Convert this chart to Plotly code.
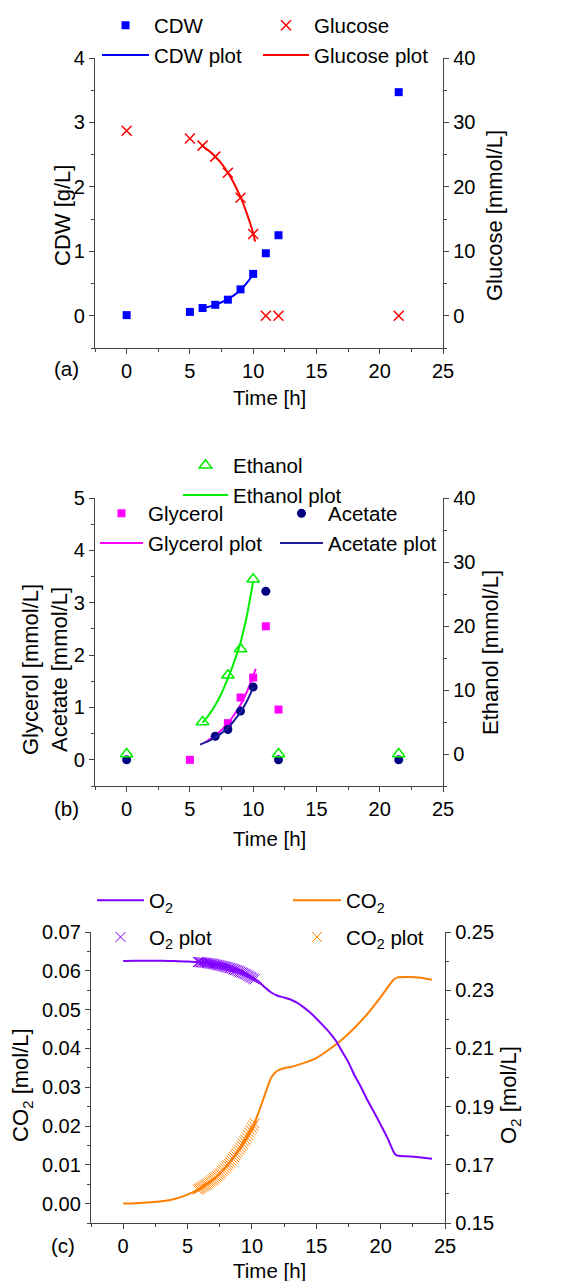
import plotly.graph_objects as go

# ---------------- data ----------------
# Panel (a)
cdw_t = [0, 5, 6, 7, 8, 9, 10, 11, 12, 21.5]
cdw_v = [0.01, 0.06, 0.12, 0.17, 0.25, 0.41, 0.65, 0.97, 1.25, 3.47]
cdw_fit_t = [6, 6.5, 7, 7.5, 8, 8.5, 9, 9.5, 10]
cdw_fit_v = [0.12, 0.14, 0.17, 0.21, 0.26, 0.32, 0.40, 0.51, 0.64]
glc_t = [0, 5, 6, 7, 8, 9, 10, 11, 12, 21.5]
glc_v = [28.7, 27.5, 26.4, 24.7, 22.2, 18.3, 12.7, 0, 0, 0]
glc_fit_t = [6, 6.5, 7, 7.5, 8, 8.5, 9, 9.5, 10, 10.15]
glc_fit_v = [26.3, 25.6, 24.7, 23.6, 22.2, 20.5, 18.4, 15.9, 12.8, 11.5]

# Panel (b)
eth_t = [0, 6, 8, 9, 10, 12, 21.5]
eth_v = [0, 5.0, 12.3, 16.4, 27.3, 0, 0]
eth_fit_t = [6, 6.5, 7, 7.5, 8, 8.5, 9, 9.5, 10]
eth_fit_v = [4.9, 6.1, 7.6, 9.5, 11.8, 14.4, 17.4, 21.6, 27.0]
gly_t = [5, 8, 9, 10, 11, 12]
gly_v = [0.0, 0.70, 1.19, 1.57, 2.55, 0.96]
gly_fit_t = [6.2, 6.5, 7, 7.5, 8, 8.5, 9, 9.5, 10, 10.2]
gly_fit_v = [0.33, 0.38, 0.47, 0.57, 0.70, 0.86, 1.05, 1.30, 1.60, 1.74]
ace_t = [0, 7, 8, 9, 10, 11, 12, 21.5]
ace_v = [0, 0.45, 0.58, 0.93, 1.39, 3.22, 0, 0]
ace_fit_t = [5.8, 6.5, 7, 7.5, 8, 8.5, 9, 9.5, 10]
ace_fit_v = [0.29, 0.36, 0.43, 0.51, 0.61, 0.75, 0.91, 1.12, 1.38]

# Panel (c)
co2_t = [0, 1, 2, 3, 4, 5, 6, 7, 8, 9, 10, 10.5, 11, 11.5, 12, 12.5, 13, 14,
         15, 16, 17, 18, 19, 20, 21, 21.3, 22, 23, 24]
co2_v = [0.0000, 0.0001, 0.0003, 0.0006, 0.0012, 0.0023, 0.0040, 0.0062, 0.0095,
         0.0139, 0.0195, 0.0233, 0.0280, 0.0325, 0.0343, 0.0349, 0.0352, 0.0362,
         0.0375, 0.0397, 0.0423, 0.0454, 0.0490, 0.0532, 0.0577, 0.0583, 0.0584,
         0.0583, 0.0577]
o2_t = [0, 1, 2, 3, 4, 5, 6, 7, 8, 9, 10, 10.5, 11, 11.5, 12, 12.5, 13, 13.5, 14,
        14.5, 15, 15.5, 16, 16.5, 17, 17.5, 18, 18.5, 19, 19.5, 20, 20.5, 21, 21.2,
        21.5, 22, 23, 24]
o2_v = [0.2400, 0.2401, 0.2401, 0.2401, 0.2400, 0.2399, 0.2396, 0.2390, 0.2380,
        0.2367, 0.2346, 0.2331, 0.2310, 0.2292, 0.2281, 0.2275, 0.2268, 0.2257,
        0.2242, 0.2224, 0.2203, 0.2180, 0.2156, 0.2128, 0.2090, 0.2052, 0.2005,
        0.1965, 0.1920, 0.1880, 0.1838, 0.1795, 0.1745, 0.1733, 0.1730, 0.1729,
        0.1726, 0.1721]
mdl_t = [5.8, 5.9, 6.0, 6.1, 6.2, 6.3, 6.4, 6.5, 6.6, 6.7, 6.8, 6.9, 7.0, 7.1, 7.2,
         7.3, 7.4, 7.5, 7.6, 7.7, 7.8, 7.9, 8.0, 8.1, 8.2, 8.3, 8.4, 8.5, 8.6, 8.7,
         8.8, 8.9, 9.0, 9.1, 9.2, 9.3, 9.4, 9.5, 9.6, 9.7, 9.8, 9.9, 10.0, 10.1, 10.2]
o2_mdl = [0.2397, 0.2397, 0.2396, 0.2396, 0.2395, 0.2395, 0.2394, 0.2393, 0.2393,
          0.2392, 0.2391, 0.2391, 0.2390, 0.2389, 0.2388, 0.2387, 0.2386, 0.2385,
          0.2384, 0.2383, 0.2382, 0.2381, 0.2380, 0.2379, 0.2377, 0.2376, 0.2375,
          0.2373, 0.2372, 0.2370, 0.2369, 0.2367, 0.2365, 0.2363, 0.2361, 0.2359,
          0.2357, 0.2355, 0.2353, 0.2350, 0.2348, 0.2345, 0.2343, 0.2340, 0.2337]
co2_mdl = [0.0036, 0.0038, 0.0040, 0.0042, 0.0044, 0.0046, 0.0048, 0.0050, 0.0052,
           0.0055, 0.0057, 0.0060, 0.0062, 0.0065, 0.0068, 0.0071, 0.0074, 0.0077,
           0.0080, 0.0084, 0.0087, 0.0091, 0.0095, 0.0099, 0.0103, 0.0107, 0.0111,
           0.0116, 0.0120, 0.0125, 0.0129, 0.0134, 0.0139, 0.0144, 0.0149, 0.0154,
           0.0160, 0.0165, 0.0171, 0.0177, 0.0183, 0.0189, 0.0195, 0.0201, 0.0207]

x_ticks = [0, 5, 10, 15, 20, 25]

# ---------------- layout helpers ----------------
OFF = 8                      # page body margin of the html page
W, H = 585 - OFF, 1281 - OFF
ML, MR = 52, 100
GW = W - ML - MR


def px(x):
    return (x - OFF - ML) / GW


def py(y):
    return 1 - (y - OFF) / H


FONT = "Liberation Sans, Arial, sans-serif"
AX = "#444444"
TICKF = 20
LEGF = 20.5
TITF = 22

fig = go.Figure()

# ---- panel (a)
fig.add_trace(go.Scatter(x=cdw_t, y=cdw_v, mode="markers", name="CDW",
                         marker=dict(symbol="square", size=8, color="#0000FF"),
                         xaxis="x", yaxis="y", legend="legend"))
fig.add_trace(go.Scatter(x=cdw_fit_t, y=cdw_fit_v, mode="lines", name="CDW plot",
                         line=dict(color="#0000FF", width=2, shape="spline"),
                         xaxis="x", yaxis="y", legend="legend"))
fig.add_trace(go.Scatter(x=glc_t, y=glc_v, mode="markers", name="Glucose",
                         marker=dict(symbol="x-thin", size=10, color="#FF0000",
                                     line=dict(color="#FF0000", width=1.5)),
                         xaxis="x", yaxis="y2", legend="legend2"))
fig.add_trace(go.Scatter(x=glc_fit_t, y=glc_fit_v, mode="lines", name="Glucose plot",
                         line=dict(color="#FF0000", width=2, shape="spline"),
                         xaxis="x", yaxis="y2", legend="legend2"))

# ---- panel (b)
fig.add_trace(go.Scatter(x=gly_t, y=gly_v, mode="markers", name="Glycerol",
                         marker=dict(symbol="square", size=8, color="#FF00FF"),
                         xaxis="x2", yaxis="y3", legend="legend4"))
fig.add_trace(go.Scatter(x=gly_fit_t, y=gly_fit_v, mode="lines", name="Glycerol plot",
                         line=dict(color="#FF00FF", width=2, shape="spline"),
                         xaxis="x2", yaxis="y3", legend="legend4"))
fig.add_trace(go.Scatter(x=ace_t, y=ace_v, mode="markers", name="Acetate",
                         marker=dict(symbol="circle", size=9, color="#000080"),
                         xaxis="x2", yaxis="y3", legend="legend5"))
fig.add_trace(go.Scatter(x=ace_fit_t, y=ace_fit_v, mode="lines", name="Acetate plot",
                         line=dict(color="#1E1E96", width=2, shape="spline"),
                         xaxis="x2", yaxis="y3", legend="legend5"))
fig.add_trace(go.Scatter(x=eth_t, y=eth_v, mode="markers", name="Ethanol",
                         marker=dict(symbol="triangle-up-open", size=11, color="#00EE00",
                                     line=dict(color="#00EE00", width=1.5)),
                         xaxis="x2", yaxis="y4", legend="legend3"))
fig.add_trace(go.Scatter(x=eth_fit_t, y=eth_fit_v, mode="lines", name="Ethanol plot",
                         line=dict(color="#00EE00", width=2, shape="spline"),
                         xaxis="x2", yaxis="y4", legend="legend3"))

# ---- panel (c)
fig.add_trace(go.Scatter(x=co2_t, y=co2_v, mode="lines", name="CO<sub>2</sub>",
                         line=dict(color="#FF8000", width=2, shape="spline", smoothing=0.6),
                         xaxis="x3", yaxis="y5", legend="legend7", legendgroup="c1"))
fig.add_trace(go.Scatter(x=mdl_t, y=co2_mdl, mode="markers", name="CO<sub>2</sub> plot",
                         marker=dict(symbol="x-thin", size=10, color="#FF8000",
                                     line=dict(color="#FF8000", width=1)),
                         xaxis="x3", yaxis="y5", legend="legend7", legendgroup="c2"))
fig.add_trace(go.Scatter(x=o2_t, y=o2_v, mode="lines", name="O<sub>2</sub>",
                         line=dict(color="#8000FF", width=2, shape="spline", smoothing=0.6),
                         xaxis="x3", yaxis="y6", legend="legend6", legendgroup="o1"))
fig.add_trace(go.Scatter(x=mdl_t, y=o2_mdl, mode="markers", name="O<sub>2</sub> plot",
                         marker=dict(symbol="x-thin", size=10, color="#8000FF",
                                     line=dict(color="#8000FF", width=1)),
                         xaxis="x3", yaxis="y6", legend="legend6", legendgroup="o2"))

# ---------------- axes ----------------
dom_ab = [px(95), px(443)]
dom_c = [px(91), px(445)]
ydom_a = [py(348), py(58)]
ydom_b = [py(786), py(498)]
ydom_c = [py(1223), py(932)]

common = dict(showline=True, linecolor=AX, linewidth=1.3, ticks="outside",
              tickcolor=AX, ticklen=5, tickwidth=1.2, showgrid=False, zeroline=False,
              tickfont=dict(family=FONT, size=TICKF, color="black"))


def xax(dom, anchor):
    return dict(domain=dom, anchor=anchor, range=[-2.5, 25], tickvals=x_ticks,
                minor=dict(ticks="outside", ticklen=3, tickwidth=1.2, tickcolor=AX,
                           dtick=2.5, tick0=0, showgrid=False),
                **common)


def yax(dom, anchor, rng, tickvals, mdt, side="left", overlay=None, fmt=None):
    d = dict(domain=dom, anchor=anchor, range=rng, tickvals=tickvals, side=side,
             minor=dict(ticks="outside", ticklen=3, tickwidth=1.2, tickcolor=AX,
                        dtick=mdt, tick0=tickvals[0], showgrid=False),
             **common)
    if overlay:
        d["overlaying"] = overlay
    if fmt:
        d["tickformat"] = fmt
    return d


fig.update_layout(
    xaxis=xax(dom_ab, "y"),
    xaxis2=xax(dom_ab, "y3"),
    xaxis3=xax(dom_c, "y5"),
    yaxis=yax(ydom_a, "x", [-0.5, 4], [0, 1, 2, 3, 4], 0.5),
    yaxis2=yax(ydom_a, "x", [-5, 40], [0, 10, 20, 30, 40], 5, "right", "y"),
    yaxis3=yax(ydom_b, "x2", [-0.5, 5], [0, 1, 2, 3, 4, 5], 0.5),
    yaxis4=yax(ydom_b, "x2", [-5, 40], [0, 10, 20, 30, 40], 5, "right", "y3"),
    yaxis5=yax(ydom_c, "x3", [-0.005, 0.07],
               [0, 0.01, 0.02, 0.03, 0.04, 0.05, 0.06, 0.07], 0.005, fmt=".2f"),
    yaxis6=yax(ydom_c, "x3", [0.15, 0.25],
               [0.15, 0.17, 0.19, 0.21, 0.23, 0.25], 0.01, "right", "y5", fmt=".2f"),
)

# ---------------- legends ----------------
def leg(x, ytop, iw, gap=0, order="normal"):
    return dict(x=px(x), y=py(ytop), xanchor="left", yanchor="top",
                orientation="v", bgcolor="rgba(0,0,0,0)", borderwidth=0,
                itemwidth=iw, tracegroupgap=gap, traceorder=order,
                font=dict(family=FONT, size=LEGF, color="black"))


HALF = 5 + 14.5
fig.update_layout(
    legend=leg(97, 25 - HALF, 47),
    legend2=leg(258, 25 - HALF, 46),
    legend3=leg(178, 465 - HALF, 45),
    legend4=leg(95, 513 - HALF, 43),
    legend5=leg(275, 513 - HALF, 43),
    legend6=leg(92, 900 - HALF, 47, 7, "grouped"),
    legend7=leg(288, 900 - HALF, 48, 7, "grouped"),
)

# ---------------- text ----------------
ann = []


def txt(x, y, s, size, angle=0):
    ann.append(dict(x=px(x), y=py(y), xref="paper", yref="paper", text=s,
                    showarrow=False, textangle=angle, xanchor="center",
                    yanchor="middle", font=dict(family=FONT, size=size, color="black")))


txt(66, 368, "(a)", LEGF)
txt(66, 808, "(b)", LEGF)
txt(63, 1245, "(c)", LEGF)
txt(269, 397, "Time [h]", LEGF)
txt(269, 838, "Time [h]", LEGF)
txt(269, 1270, "Time [h]", LEGF)
txt(62, 216, "CDW [g/L]", TITF, -90)
txt(495, 215, "Glucose [mmol/L]", TITF, -90)
txt(45, 670, "Glycerol [mmol/L]<br>Acetate [mmol/L]", TITF, -90)
txt(490, 653, "Ethanol [mmol/L]", TITF, -90)
txt(22, 1085, "CO<sub>2</sub> [mol/L]", TITF, -90)
txt(510, 1095, "O<sub>2</sub> [mol/L]", TITF, -90)

fig.update_layout(
    annotations=ann,
    width=W, height=H,
    margin=dict(l=ML, r=MR, t=0, b=0, autoexpand=False),
    paper_bgcolor="white", plot_bgcolor="white",
    font=dict(family=FONT, size=LEGF, color="black"),
)

fig.write_html("out.html")
